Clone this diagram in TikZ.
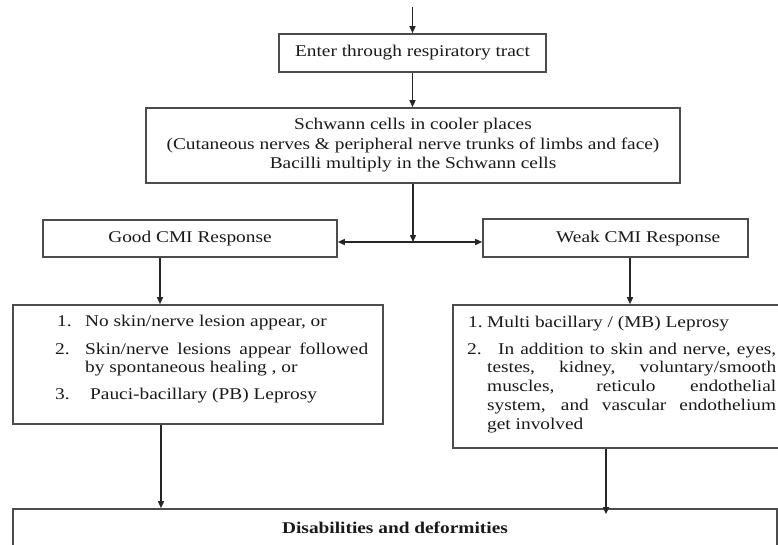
\documentclass[tikz,border=0pt]{standalone}
\usepackage{fontspec}
\setmainfont{Liberation Serif}[FakeStretch=1.18]
\usetikzlibrary{arrows.meta}
\definecolor{boxc}{gray}{0.3}
\definecolor{linec}{gray}{0.15}
\definecolor{txtc}{gray}{0.1}
\begin{document}
\begin{tikzpicture}[x=1pt,y=-1pt,
  font=\fontsize{16.4}{19.5}\selectfont,
  box/.style={draw=boxc, line width=1.6pt, inner sep=0pt, text=txtc, align=center},
  arr/.style={draw=linec, line width=1.4pt, -{Triangle[length=7pt,width=6pt]}},
  lbl/.style={inner sep=0pt, anchor=base west, text=txtc},
  ctr/.style={inner sep=0pt, text=txtc}]
\useasboundingbox (0,0) rectangle (778,545);
\begin{scope}
\clip (0,0) rectangle (778,545);
\node[box, minimum width=267pt, minimum height=38pt] (enter) at (412.5,53) {Enter through respiratory tract};
\node[box, minimum width=534pt, minimum height=75pt] (schwann) at (413,145.5)
  {Schwann cells in cooler places\\(Cutaneous nerves \& peripheral nerve trunks of limbs and face)\\Bacilli multiply in the Schwann cells};
\node[box, minimum width=294pt, minimum height=37pt] (good) at (190,238.5) {Good CMI Response};
\node[box, minimum width=265pt, minimum height=38pt] (weak) at (615.5,238) {};
\node[lbl] (weaktxt) at (556,243) {Weak CMI Response};
\node[box, minimum width=370pt, minimum height=119pt] (left) at (198,364.5) {};
\node[box, minimum width=347pt, minimum height=143pt] (right) at (626.5,376.5) {};
\node[box, minimum width=764pt, minimum height=38pt, font=\fontsize{16.4}{19.5}\selectfont\bfseries] (dis) at (395,528) {Disabilities and deformities};

% left box text
\node[lbl] (l1n) at (57,326.5) {1.};
\node[lbl] (l1t) at (85,326.5) {No skin/nerve lesion appear, or};
\node[lbl] (l2n) at (55,354.5) {2.};
\node[lbl] (l2t) at (85,354.5) {\makebox[283pt][s]{Skin/nerve lesions appear followed}};
\node[lbl] (l2u) at (85,372.5) {by spontaneous healing , or};
\node[lbl] (l3n) at (55,399.5) {3.};
\node[lbl] (l3t) at (90,399.5) {Pauci-bacillary (PB) Leprosy};

% right box text
\node[lbl] (r1n) at (468,327) {1.};
\node[lbl] (r1t) at (487,327) {Multi bacillary / (MB) Leprosy};
\node[lbl] (r2n) at (467,354) {2.};
\node[lbl] (r2t) at (498,354) {\makebox[278pt][s]{In addition to skin and nerve, eyes,}};
\node[lbl] (r2u) at (487,372.5) {\makebox[289pt][s]{testes, kidney, voluntary/smooth}};
\node[lbl] (r2v) at (487,391.5) {\makebox[289pt][s]{muscles, reticulo endothelial}};
\node[lbl] (r2w) at (487,410.5) {\makebox[289pt][s]{system, and vascular endothelium}};
\node[lbl] (r2x) at (487,429.5) {get involved};

% connectors
\coordinate (top) at (412.5,7);
\coordinate (j) at (413,242);
\draw[arr] (top) -- (enter.north);
\draw[arr] (enter.south) -- (enter.south |- schwann.north);
\draw[arr] (schwann.south) -- (j);
\draw[arr] (j) -- (j -| good.east);
\draw[arr] (j) -- (j -| weak.west);
\draw[arr] ([xshift=-30pt]good.south) -- ([xshift=-30pt]good.south |- left.north);
\draw[arr] ([xshift=14.5pt]weak.south) -- ([xshift=14.5pt]weak.south |- right.north);
\draw[arr] ([xshift=-37pt]left.south) -- ([xshift=-37pt]left.south |- dis.north);
\draw[arr] ([xshift=-20.5pt]right.south) -- ([xshift=-20.5pt,yshift=-6pt]right.south |- dis.north);
\end{scope}
\end{tikzpicture}
\end{document}
